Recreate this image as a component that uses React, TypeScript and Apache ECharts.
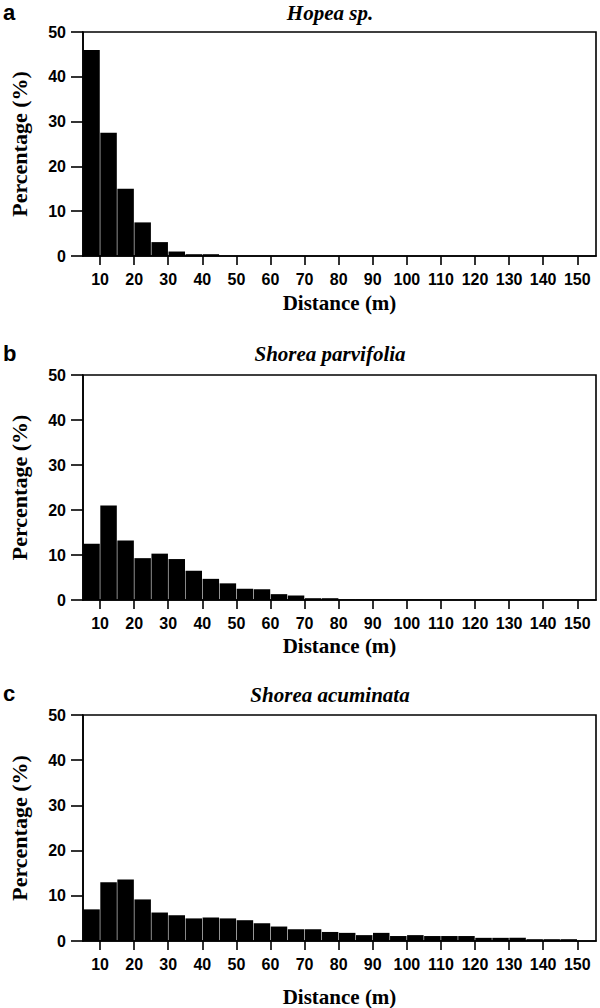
import React, { useEffect, useRef } from "react";
import * as echarts from "echarts";

// Bin starts (m), each bin is 5 m wide
const binStarts = [5, 10, 15, 20, 25, 30, 35, 40, 45, 50, 55, 60, 65, 70, 75, 80, 85, 90, 95, 100, 105, 110, 115, 120, 125, 130, 135, 140, 145];
const xTicks = [10, 20, 30, 40, 50, 60, 70, 80, 90, 100, 110, 120, 130, 140, 150];

const titles = ["Hopea sp.", "Shorea parvifolia", "Shorea acuminata"];
const panelLetters = ["a", "b", "c"];

const hopea = [46, 27.5, 15, 7.5, 3.1, 1.0, 0.4, 0.4, 0, 0, 0, 0, 0, 0, 0, 0, 0, 0, 0, 0, 0, 0, 0, 0, 0, 0, 0, 0, 0];
const parvifolia = [12.5, 21, 13.2, 9.3, 10.3, 9.1, 6.5, 4.7, 3.7, 2.5, 2.4, 1.3, 1.0, 0.4, 0.4, 0.1, 0.1, 0.1, 0.1, 0.1, 0.05, 0.05, 0.05, 0.05, 0.05, 0.05, 0.05, 0.05, 0.05];
const acuminata = [7, 13, 13.6, 9.2, 6.3, 5.7, 5.0, 5.2, 5.0, 4.6, 3.9, 3.2, 2.6, 2.6, 2.0, 1.8, 1.3, 1.8, 1.1, 1.3, 1.1, 1.1, 1.1, 0.7, 0.7, 0.7, 0.4, 0.4, 0.4];

const yTicksMax = 50;

export default function App() {
  const ref = useRef<HTMLDivElement>(null);

  useEffect(() => {
    document.body.style.margin = "0";
    const chart = echarts.init(ref.current!, null, { renderer: "svg" });
    const grids = [
      { top: 32, height: 224 },
      { top: 375, height: 225 },
      { top: 715, height: 226 },
    ];
    const datasets = [hopea, parvifolia, acuminata];
    const nameGaps = [36, 35, 45];
    const labelFont = "Liberation Sans Narrow, Liberation Sans, Arial, sans-serif";
    const serif = "Liberation Serif, Times New Roman, serif";

    const option: any = {
      animation: false,
      backgroundColor: "#fff",
      grid: grids.map((g) => ({
        left: 70,
        right: 4,
        top: g.top,
        height: g.height,
        show: true,
        borderColor: "#000",
        borderWidth: 1.6,
        backgroundColor: "transparent",
      })),
      xAxis: grids.map((g, i) => ({
        type: "value",
        gridIndex: i,
        min: 5,
        max: 155.5,
        name: "Distance (m)",
        nameLocation: "middle",
        nameGap: nameGaps[i],
        nameTextStyle: { fontFamily: serif, fontWeight: "bold", fontSize: 21, color: "#000" },
        axisLine: { show: true, lineStyle: { color: "#000", width: 1.6 } },
        axisTick: { show: true, length: 9, inside: false, customValues: xTicks, lineStyle: { color: "#000", width: 1.6 } },
        axisLabel: {
          customValues: xTicks,
          margin: 15,
          fontFamily: labelFont,
          fontWeight: "bold",
          fontSize: 16,
          color: "#000",
        },
        splitLine: { show: false },
      })),
      yAxis: grids.map((g, i) => ({
        type: "value",
        gridIndex: i,
        min: 0,
        max: yTicksMax,
        interval: 10,
        name: "Percentage (%)",
        nameLocation: "middle",
        nameGap: 53,
        nameTextStyle: { fontFamily: serif, fontWeight: "bold", fontSize: 22, color: "#000" },
        axisLine: { show: true, lineStyle: { color: "#000", width: 1.6 } },
        axisTick: { show: true, length: 12, inside: false, lineStyle: { color: "#000", width: 1.6 } },
        axisLabel: {
          margin: 17,
          fontFamily: labelFont,
          fontWeight: "bold",
          fontSize: 16,
          color: "#000",
        },
        splitLine: { show: false },
      })),
      series: datasets.map((d, i) => ({
        type: "bar",
        xAxisIndex: i,
        yAxisIndex: i,
        barWidth: 16.5,
        itemStyle: { color: "#000" },
        data: binStarts.map((s, k) => [s + 2.5, d[k]]),
      })),
      graphic: [
        ...titles.map((t, i) => ({
          type: "text",
          x: 330,
          y: [13, 354, 695][i],
          style: {
            text: t,
            font: `italic bold 21px ${serif}`,
            fill: "#000",
            textAlign: "center",
            textVerticalAlign: "middle",
          },
        })),
        ...panelLetters.map((t, i) => ({
          type: "text",
          x: 3,
          y: [12, 353, 693][i],
          style: {
            text: t,
            font: `bold 22px Liberation Sans, Arial, sans-serif`,
            fill: "#000",
            textAlign: "left",
            textVerticalAlign: "middle",
          },
        })),
      ],
    };
    chart.setOption(option);
    return () => chart.dispose();
  }, []);

  return <div ref={ref} style={{ width: 600, height: 1008 }} />;
}
